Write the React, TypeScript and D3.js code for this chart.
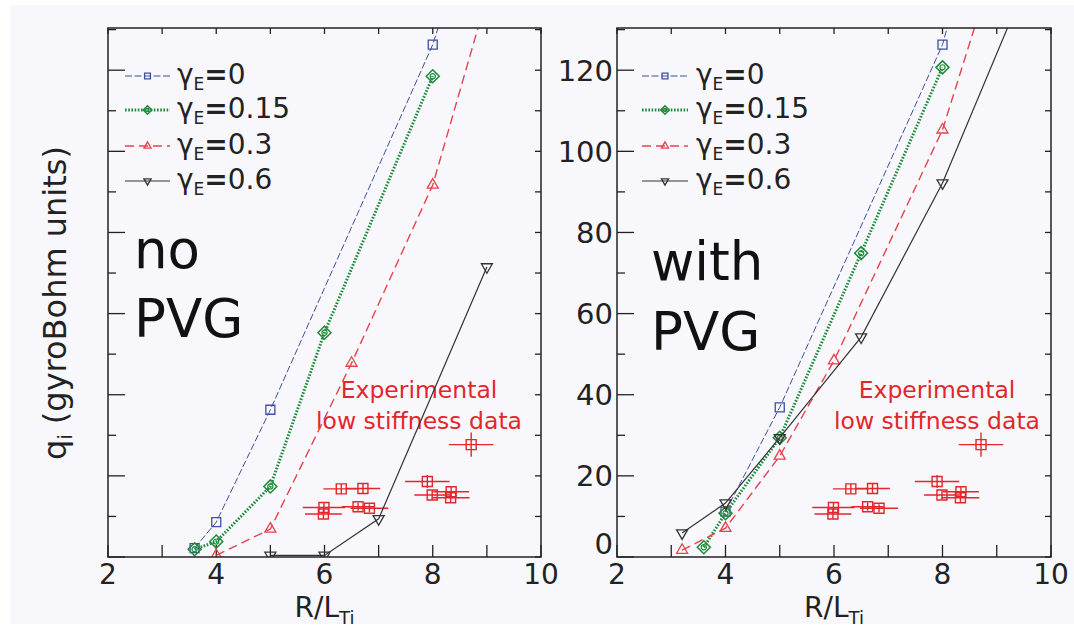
import React from "react";
import * as d3 from "d3";

// ---------- data (R/L_Ti, q_i) ----------
const xTicks = [2, 3, 4, 5, 6, 7, 8, 9, 10];
const xTickLabels = ["2", "", "4", "", "6", "", "8", "", "10"];
const yTicks = [0, 10, 20, 30, 40, 50, 60, 70, 80, 90, 100, 110, 120, 130];
const yTickLabels = ["0", "", "20", "", "40", "", "60", "", "80", "", "100", "", "120", ""];

const seriesNames = ["γE=0", "γE=0.15", "γE=0.3", "γE=0.6"];

// no PVG panel
const noPvgG0 = [[3.6, 2.2], [4, 8.6], [5, 36.3], [8, 126.3], [9, 168]];
const noPvgG015 = [[3.6, 1.9], [4, 3.8], [5, 17.4], [6, 55.3], [8, 118.5]];
const noPvgG03 = [[4, 0.4], [5, 6.9], [6.5, 47.8], [8, 91.7], [9, 138]];
const noPvgG06 = [[5, 0.4], [6, 0.4], [7, 9.4], [9, 71.5]];

// with PVG panel
const pvgG0 = [[4, 11.2], [5, 36.9], [8, 126.3], [9, 175]];
const pvgG015 = [[3.6, 2.4], [4, 10.8], [5, 29.4], [6.5, 74.9], [8, 120.7]];
const pvgG03 = [[3.2, 1.7], [4, 7.1], [5, 24.9], [6, 48.4], [8, 105.3], [9, 148]];
const pvgG06 = [[3.2, 5.9], [4, 13.3], [5, 29.4], [6.5, 54.2], [8, 92.2], [10, 156]];

// experimental low-stiffness data
const expX = [6.31, 6.71, 5.99, 5.98, 6.62, 6.83, 7.9, 7.99, 8.34, 8.33, 8.71];
const expY = [16.8, 16.9, 12.2, 10.6, 12.4, 12.0, 18.6, 15.3, 16.1, 14.6, 27.7];
const expXErr = [0.33, 0.32, 0.39, 0.34, 0.3, 0.35, 0.41, 0.33, 0.33, 0.35, 0.41];
const expYErr = [1.2, 1.2, 1.2, 1.2, 1, 1, 1.6, 1.2, 1.2, 1.2, 3];

// ---------- styles ----------
const COLORS = ["#3d4f9f", "#1f8a3a", "#e8404c", "#333333"];
const EXP_COLOR = "#e3262b";
const FONT = "DejaVu Sans, Verdana, sans-serif";

const W = 1074;
const H = 627;
const yTop = 28;
const yBot = 557;

const y = d3.scaleLinear().domain([0, 130.4]).range([yBot, yTop]);

function sq(s: number) {
  return `M${-s / 2},${-s / 2}h${s}v${s}h${-s}Z`;
}
function triUp(a: number) {
  const h = a * 0.866;
  return `M0,${(-2 * h) / 3}L${a / 2},${h / 3}L${-a / 2},${h / 3}Z`;
}
function triDown(a: number) {
  const h = a * 0.866;
  return `M0,${(2 * h) / 3}L${a / 2},${-h / 3}L${-a / 2},${-h / 3}Z`;
}
function diamond(r: number) {
  return `M0,${-r}L${r},0L0,${r}L${-r},0Z`;
}

function Marker({ kind, cx, cy, color, small }: any) {
  const k = small ? 0.65 : 1;
  if (kind === 0)
    return <path d={sq(9 * k)} transform={`translate(${cx},${cy})`} fill="none" stroke={color} strokeWidth={1.3} />;
  if (kind === 1)
    return (
      <g transform={`translate(${cx},${cy})`}>
        <path d={diamond(6.5 * k)} fill="none" stroke={color} strokeWidth={1.5} />
        <circle r={2.6 * k} fill="none" stroke={color} strokeWidth={1.2} />
      </g>
    );
  if (kind === 2)
    return <path d={triUp(11 * k)} transform={`translate(${cx},${cy})`} fill="none" stroke={color} strokeWidth={1.3} />;
  return <path d={triDown(11 * k)} transform={`translate(${cx},${cy})`} fill="none" stroke={color} strokeWidth={1.3} />;
}

const lineStyles = [
  { width: 1, dash: "7 2.5" },
  { width: 3, dash: "1.6 1.6" },
  { width: 1.4, dash: "9 5" },
  { width: 1.2, dash: "" },
];

function Panel({ id, left, right, series, showYLabels, legendX0, legendX1, legendText, bigText, bigX, bigY, expCx }: any) {
  const x = d3.scaleLinear().domain([2, 10]).range([left, right]);
  const line = d3
    .line<number[]>()
    .x((d) => x(d[0]))
    .y((d) => y(d[1]));
  const legendRows = [76, 110, 146, 181];
  return (
    <g>
      <defs>
        <clipPath id={`clip-${id}`}>
          <rect x={left} y={yTop} width={right - left} height={yBot - yTop} />
        </clipPath>
      </defs>
      {/* ticks */}
      {xTicks.map((t, i) => (
        <g key={`xt${i}`}>
          <line x1={x(t)} x2={x(t)} y1={yBot} y2={yBot - 12} stroke="#222" strokeWidth={1.3} />
          <line x1={x(t)} x2={x(t)} y1={yTop} y2={yTop + 6} stroke="#222" strokeWidth={1.3} />
          {xTickLabels[i] && (
            <text x={x(t)} y={584} textAnchor="middle" fontSize={28} fontFamily={FONT} fill="#222">
              {xTickLabels[i]}
            </text>
          )}
        </g>
      ))}
      {yTicks.map((t, i) => {
        const major = t % 20 === 0;
        return (
          <g key={`yt${i}`}>
            <line x1={left} x2={left + (major ? 17 : 8)} y1={y(t)} y2={y(t)} stroke="#222" strokeWidth={1.3} />
            <line x1={right} x2={right - 6} y1={y(t)} y2={y(t)} stroke="#222" strokeWidth={1.3} />
            {showYLabels && yTickLabels[i] && (
              <text
                x={left - 4}
                y={t === 0 ? y(t) - 3 : y(t) + 10.5}
                textAnchor="end"
                fontSize={29}
                fontFamily={FONT}
                fill="#222"
              >
                {yTickLabels[i]}
              </text>
            )}
          </g>
        );
      })}
      {/* experimental */}
      <g>
        {expX.map((ex, i) => (
          <g key={`e${i}`} stroke={EXP_COLOR} strokeWidth={1.4} fill="none">
            <line x1={x(ex - expXErr[i])} x2={x(ex + expXErr[i])} y1={y(expY[i])} y2={y(expY[i])} />
            <line x1={x(ex)} x2={x(ex)} y1={y(expY[i] - expYErr[i])} y2={y(expY[i] + expYErr[i])} />
            <path d={sq(10)} transform={`translate(${x(ex)},${y(expY[i])})`} />
          </g>
        ))}
        <text x={expCx} y={398} textAnchor="middle" fontSize={23.5} fontFamily={FONT} fill={EXP_COLOR}>
          Experimental
        </text>
        <text x={expCx} y={429} textAnchor="middle" fontSize={23.5} fontFamily={FONT} fill={EXP_COLOR}>
          low stiffness data
        </text>
      </g>
      {/* series */}
      <g clipPath={`url(#clip-${id})`}>
        {series.map((s: number[][], k: number) => (
          <g key={`s${k}`}>
            <path
              d={line(s) || ""}
              fill="none"
              stroke={COLORS[k]}
              strokeWidth={lineStyles[k].width}
              strokeDasharray={lineStyles[k].dash}
            />
            {s.map((p, j) => (
              <Marker key={j} kind={k} cx={x(p[0])} cy={y(p[1])} color={COLORS[k]} />
            ))}
          </g>
        ))}
      </g>
      {/* frame */}
      <rect x={left} y={yTop} width={right - left} height={yBot - yTop} fill="none" stroke="#222" strokeWidth={1.5} />
      {/* legend */}
      {seriesNames.map((n, k) => {
        const ly = legendRows[k];
        const parts = n.split("E");
        const rest = parts[1].slice(1);
        return (
          <g key={`lg${k}`}>
            <line
              x1={legendX0}
              x2={legendX1}
              y1={ly}
              y2={ly}
              stroke={COLORS[k]}
              strokeWidth={lineStyles[k].width}
              strokeDasharray={lineStyles[k].dash}
            />
            <Marker kind={k} cx={(legendX0 + legendX1) / 2} cy={ly} color={COLORS[k]} small />
            <text x={legendText} y={ly + 8} fontSize={28} fontFamily={FONT} fill="#222">
              {parts[0]}
              <tspan fontSize={17} dy={6}>E</tspan>
              <tspan dy={-6} fontWeight="bold">=</tspan>
              <tspan>{rest}</tspan>
            </text>
          </g>
        );
      })}
      {/* big label */}
      {bigText.map((t: string, i: number) => (
        <text key={`bt${i}`} x={bigX} y={bigY[i]} fontSize={53} fontFamily={FONT} fill="#111">
          {t}
        </text>
      ))}
      {/* x label */}
      <text x={(left + right) / 2} y={617} textAnchor="middle" fontSize={28} fontFamily={FONT} fill="#222">
        R/L
        <tspan fontSize={18} dy={7}>Ti</tspan>
      </text>
    </g>
  );
}

export default function App() {
  return (
    <div style={{ position: "absolute", left: 0, top: 0 }}>
      <svg width={W} height={H} viewBox={`0 0 ${W} ${H}`} style={{ display: "block" }}>
        <rect x={0} y={0} width={W} height={H} fill="#ffffff" />
        <rect x={10} y={5} width={W - 10} height={H - 8} fill="#f8f8fc" />
        <Panel
          id="left"
          left={108}
          right={541}
          series={[noPvgG0, noPvgG015, noPvgG03, noPvgG06]}
          showYLabels={false}
          legendX0={125}
          legendX1={170}
          legendText={177}
          bigText={["no", "PVG"]}
          bigX={134}
          bigY={[268, 337]}
          expCx={419}
        />
        <Panel
          id="right"
          left={617}
          right={1051}
          series={[pvgG0, pvgG015, pvgG03, pvgG06]}
          showYLabels={true}
          legendX0={642}
          legendX1={688}
          legendText={696}
          bigText={["with", "PVG"]}
          bigX={651}
          bigY={[280, 350]}
          expCx={937}
        />
        <text
          transform="translate(66,303) rotate(-90)"
          textAnchor="middle"
          fontSize={32}
          fontFamily={FONT}
          fill="#222"
        >
          q<tspan fontSize={19} dy={6}>i</tspan>
          <tspan dy={-6}> (gyroBohm units)</tspan>
        </text>
      </svg>
    </div>
  );
}
